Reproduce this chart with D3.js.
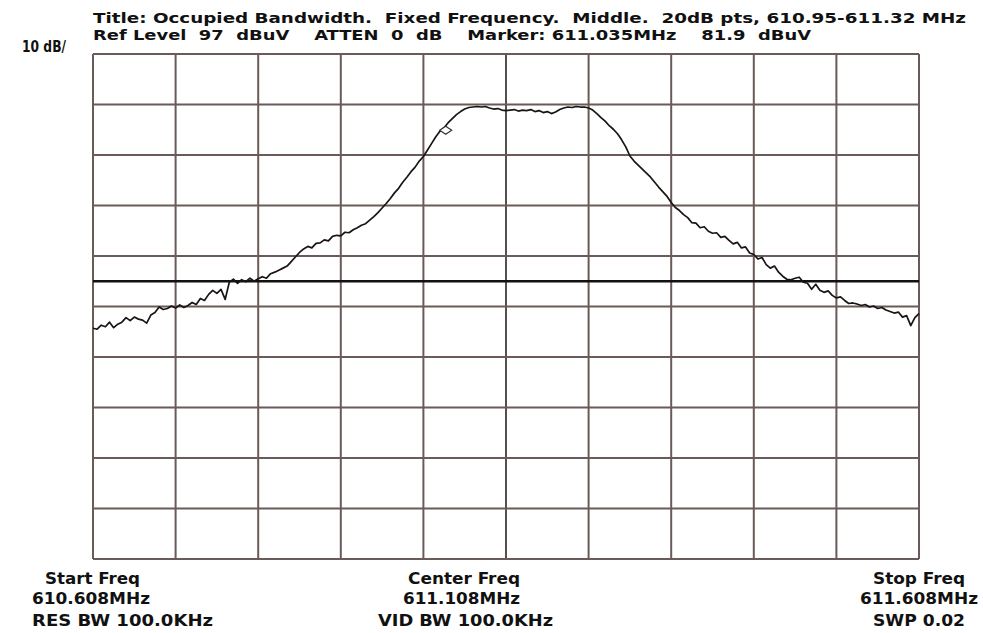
<!DOCTYPE html>
<html><head><meta charset="utf-8">
<script src="https://cdn.jsdelivr.net/npm/d3@7"></script>
<style>
html,body{margin:0;padding:0;background:#fff;}
svg{display:block;}
text{font-family:"Liberation Sans Narrow","DejaVu Sans Condensed","Liberation Sans",sans-serif;font-weight:bold;fill:#111;white-space:pre;}
</style></head>
<body>
<svg id="chart" width="983" height="633"></svg>
<script>
// ---- data ----
const startFreq = 610.608, stopFreq = 611.608, centerFreq = 611.108; // MHz
const refLevel = 97, dbPerDiv = 10, divisions = 10;
const gridFreqs = [610.608,610.708,610.808,610.908,611.008,611.108,611.208,611.308,611.408,611.508,611.608];
const gridLevels = [97,87,77,67,57,47,37,27,17,7,-3];
const displayLine = 52; // dBuV
const markerFreq = 611.035, markerLevel = 81.9;
const titleLines = [
  "Title: Occupied Bandwidth.  Fixed Frequency.  Middle.  20dB pts, 610.95-611.32 MHz",
  "Ref Level  97  dBuV    ATTEN  0  dB    Marker: 611.035MHz    81.9  dBuV"
];
const scaleLabel = "10 dB/";
const leftLabels = ["Start Freq","610.608MHz","RES BW 100.0KHz"];
const centerLabels = ["Center Freq","611.108MHz","VID BW 100.0KHz"];
const rightLabels = ["Stop Freq","611.608MHz","SWP 0.02"];
// trace levels (dBuV), 201 sweep points from start to stop frequency
const traceLevel = [
42.7,42.5,43.3,43.0,43.9,42.8,43.5,43.9,44.8,44.2,
44.9,44.5,44.3,43.7,45.3,45.8,46.9,46.4,46.6,47.1,
46.7,47.3,46.8,47.2,47.8,47.4,48.6,48.2,49.4,50.2,
49.6,50.4,48.4,51.8,52.4,51.6,52.3,51.9,52.6,52.0,
52.5,52.9,52.6,53.5,53.8,54.2,54.6,55.0,55.9,56.8,
57.7,58.4,58.9,58.6,59.5,59.6,60.2,60.0,60.9,61.1,
61.0,61.7,61.6,62.2,62.6,63.1,63.4,64.1,64.8,65.6,
66.5,67.4,68.4,69.5,70.4,71.6,72.6,73.7,74.6,75.8,
76.7,78.0,79.3,80.6,81.7,82.4,83.4,84.2,85.0,85.6,
86.1,86.4,86.5,86.6,86.5,86.6,86.3,86.1,86.2,85.9,
85.8,85.9,86.0,85.7,85.9,85.8,86.0,85.6,85.8,85.4,
85.6,85.2,85.5,86.0,86.3,86.5,86.4,86.6,86.5,86.5,
86.3,85.9,85.2,84.4,83.7,82.8,82.1,81.2,80.0,78.6,
76.8,75.8,75.0,74.2,73.4,72.6,71.6,70.6,69.7,68.8,
67.6,66.6,66.0,65.2,64.6,63.6,63.5,62.6,62.8,61.9,
61.5,61.6,60.7,60.9,60.1,59.4,59.7,58.6,58.8,57.6,
57.3,56.4,56.7,55.3,54.6,55.0,53.8,53.0,52.4,52.3,
52.6,52.8,51.8,51.6,50.4,51.4,50.2,49.8,50.1,49.2,
48.7,48.9,48.2,47.6,47.7,47.5,47.2,47.4,46.9,47.1,
46.6,46.8,46.3,46.0,45.7,45.9,44.9,45.2,43.2,44.8,
45.6
];
const traceFreq = traceLevel.map((_, i) => startFreq + (stopFreq - startFreq) * i / (traceLevel.length - 1));

// ---- drawing ----
const svg = d3.select("#chart");
const x = d3.scaleLinear().domain([startFreq, stopFreq]).range([93, 919]);
const y = d3.scaleLinear().domain([refLevel - dbPerDiv * divisions, refLevel]).range([559, 54]);

const gridColor = "#6a5b58";
const g = svg.append("g");
g.selectAll("line.v").data(gridFreqs).join("line")
  .attr("x1", d => x(d)).attr("x2", d => x(d))
  .attr("y1", y.range()[1]).attr("y2", y.range()[0])
  .attr("stroke", d => d === centerFreq ? "#2a2222" : gridColor)
  .attr("stroke-width", d => d === centerFreq ? 1.6 : 2);
g.selectAll("line.h").data(gridLevels).join("line")
  .attr("x1", x.range()[0]).attr("x2", x.range()[1])
  .attr("y1", d => y(d)).attr("y2", d => y(d))
  .attr("stroke", gridColor).attr("stroke-width", 2);

// display line
svg.append("line")
  .attr("x1", x.range()[0]).attr("x2", x.range()[1])
  .attr("y1", y(displayLine)).attr("y2", y(displayLine))
  .attr("stroke", "#111").attr("stroke-width", 2.4);

// trace
const line = d3.line().x((d, i) => x(traceFreq[i])).y(d => y(d));
svg.append("path").datum(traceLevel)
  .attr("d", line).attr("fill", "none")
  .attr("stroke", "#1a1414").attr("stroke-width", 1.7)
  .attr("stroke-linejoin", "round");

// marker diamond
const mx = x(markerFreq), my = y(markerLevel);
svg.append("path")
  .attr("d", `M${mx - 6},${my} L${mx},${my - 4} L${mx + 6},${my} L${mx},${my + 4} Z`)
  .attr("fill", "#fff").attr("stroke", "#333").attr("stroke-width", 1.2);

// texts
function txt(s, xx, yy, len, size, anchor) {
  svg.append("text").attr("x", xx).attr("y", yy)
    .attr("font-size", size).attr("text-anchor", anchor || "start")
    .attr("xml:space", "preserve")
    .attr("textLength", len).attr("lengthAdjust", "spacingAndGlyphs")
    .text(s);
}
txt(titleLines[0], 93, 23, 873, 14);
txt(titleLines[1], 93, 40, 718, 14);
txt(scaleLabel, 22, 52, 44, 15);

txt(leftLabels[0], 45, 584, 95, 16);
txt(leftLabels[1], 32, 604, 118, 16);
txt(leftLabels[2], 32, 626, 181, 16);

txt(centerLabels[0], 408, 584, 112, 16);
txt(centerLabels[1], 403, 604, 117, 16);
txt(centerLabels[2], 378, 626, 175, 16);

txt(rightLabels[0], 873, 584, 92, 16);
txt(rightLabels[1], 860, 604, 118, 16);
txt(rightLabels[2], 873, 626, 92, 16);
</script>
</body></html>
